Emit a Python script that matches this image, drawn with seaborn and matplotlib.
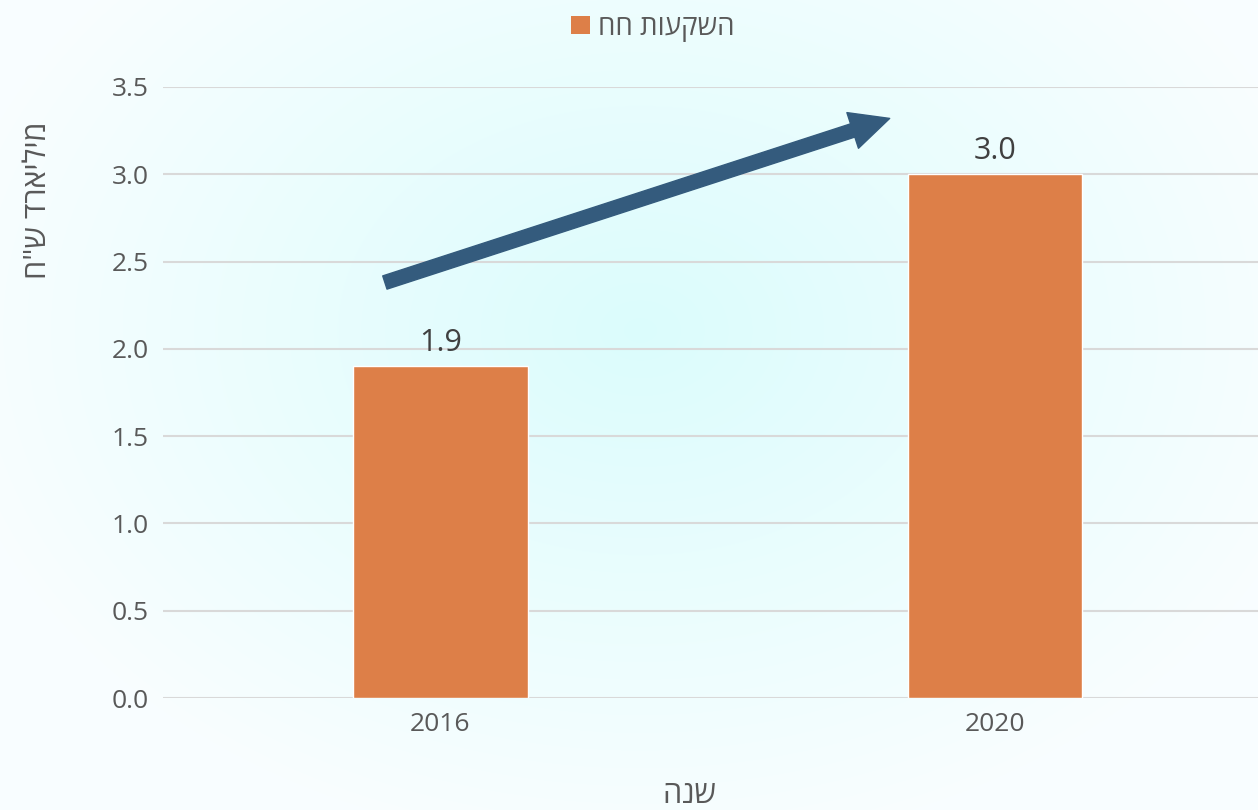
import numpy as np
import pandas as pd
import seaborn as sns
import matplotlib.pyplot as plt
from matplotlib.patches import Patch

# ==========================================
# Data
# ==========================================
YEARS = ['2016', '2020']
VALUES = [1.9, 3.0]
Y_TICKS = [0.0, 0.5, 1.0, 1.5, 2.0, 2.5, 3.0, 3.5]

LEGEND_LABEL = 'חח תועקשה'
X_LABEL = 'הנש'
Y_LABEL = 'ח"ש דראילימ'

# trend arrow (category position, value)
ARROW_START = (-0.10, 2.38)
ARROW_END = (0.81, 3.32)

BAR_COLOR = '#DD7F48'
ARROW_COLOR = '#345B7D'
TEXT_COLOR = '#595959'
GRID_COLOR = '#D9D9D9'
FONTS = ['Open Sans', 'DejaVu Sans']

# ==========================================
# Plot
# ==========================================
sns.set_theme(style='white')
plt.rcParams['font.family'] = FONTS

df = pd.DataFrame({'Year': YEARS, 'Value': VALUES})

fig = plt.figure(figsize=(12.58, 8.10), dpi=100)

# soft radial background
bg = fig.add_axes([0, 0, 1, 1], zorder=-10)
yy, xx = np.mgrid[0:810, 0:1258]
r = np.sqrt(((xx - 640) / 700.0) ** 2 + ((yy - 330) / 520.0) ** 2)
r = np.clip(r, 0, 1)
c0 = np.array([0.86, 0.99, 0.99])
c1 = np.array([0.975, 0.995, 1.0])
img = c0[None, None, :] * (1 - r[..., None]) + c1[None, None, :] * r[..., None]
bg.imshow(img, aspect='auto', extent=[0, 1, 0, 1], origin='upper')
bg.axis('off')

ax = fig.add_axes([163 / 1258, 112 / 810, 1095 / 1258, 611 / 810])
ax.set_facecolor('none')

sns.barplot(data=df, x='Year', y='Value', color=BAR_COLOR, width=0.315,
            saturation=1, ax=ax, zorder=3)

ax.set_xlim(-0.5, 1.474)
ax.set_ylim(0, 3.5)
ax.set_yticks(Y_TICKS)
ax.set_yticklabels([f'{t:.1f}' for t in Y_TICKS])
ax.yaxis.grid(True, color=GRID_COLOR, linewidth=1.5, zorder=0)
ax.set_axisbelow(True)
for s in ax.spines.values():
    s.set_visible(False)
ax.tick_params(axis='both', length=0, labelsize=19, labelcolor=TEXT_COLOR)
ax.tick_params(axis='y', pad=10)
ax.tick_params(axis='x', pad=10)

ax.bar_label(ax.containers[0], fmt='%.1f', padding=6, fontsize=22,
             color='#404040')

ax.set_xlabel(X_LABEL, fontsize=22, color=TEXT_COLOR)
ax.xaxis.set_label_coords(0.481, -0.135)
ax.set_ylabel(Y_LABEL, fontsize=22, color=TEXT_COLOR)
ax.yaxis.set_label_coords(-0.1, 0.815)

ax.annotate('', xy=ARROW_END, xytext=ARROW_START,
            arrowprops=dict(arrowstyle='simple,head_width=1.35,head_length=1.4,tail_width=0.5',
                            mutation_scale=20, color=ARROW_COLOR,
                            shrinkA=0, shrinkB=0),
            zorder=5)

handle = Patch(facecolor=BAR_COLOR, edgecolor='none')
fig.legend([handle], [LEGEND_LABEL], loc='upper center',
           bbox_to_anchor=(0.519, 1.0), frameon=False, fontsize=20,
           labelcolor=TEXT_COLOR, handlelength=0.65, handleheight=0.65,
           handletextpad=0.3, borderaxespad=0.1)

plt.savefig('out.png', dpi=100)
